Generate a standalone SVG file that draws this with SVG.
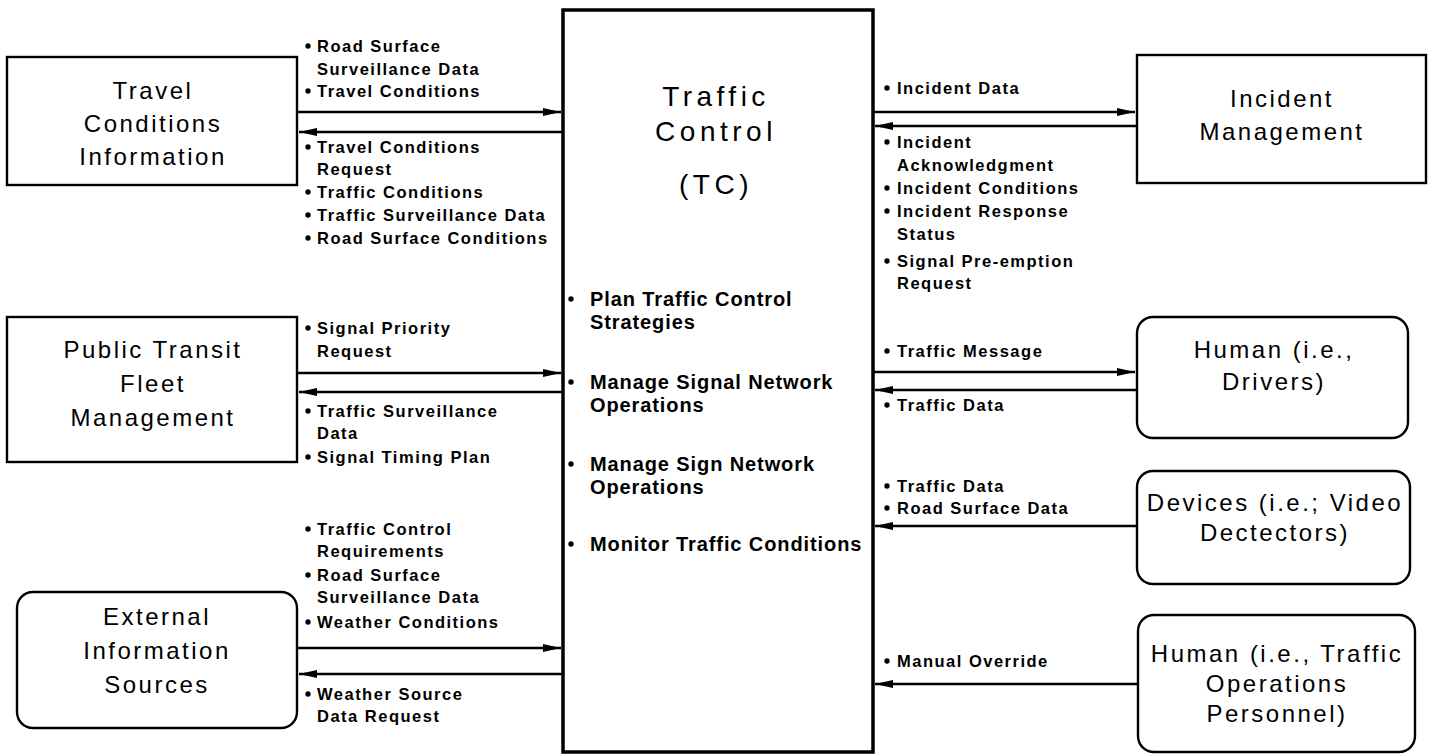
<svg xmlns="http://www.w3.org/2000/svg" width="1433" height="756" viewBox="0 0 1433 756">
<style>
.box{fill:#fff;stroke:#000;stroke-width:2.4}
.nt{font-family:"Liberation Sans",Arial,sans-serif;font-size:24px;letter-spacing:2.5px;text-anchor:middle;fill:#000}
.tt{font-family:"Liberation Sans",Arial,sans-serif;font-size:28px;letter-spacing:4.5px;text-anchor:middle;fill:#000}
.fn{font-family:"Liberation Sans",Arial,sans-serif;font-size:20px;font-weight:bold;letter-spacing:0.9px;fill:#000}
.lb{font-family:"Liberation Sans",Arial,sans-serif;font-size:16.5px;font-weight:bold;letter-spacing:1.5px;fill:#000}
.ar{stroke:#000;stroke-width:2.6;fill:none;marker-end:url(#ah)}
</style>
<defs>
<marker id="ah" viewBox="0 0 18 9" refX="18" refY="4.5" markerWidth="18" markerHeight="9" orient="auto" markerUnits="userSpaceOnUse"><path d="M0,0.5 L18,4.5 L0,8.5 Z" fill="#000"/></marker>
<circle id="b" r="2.7" fill="#000"/>
</defs>
<rect width="1433" height="756" fill="#fff"/>

<g id="tc">
<rect x="563" y="10" width="310" height="742" fill="#fff" stroke="#000" stroke-width="3.5"/>
<text class="tt" x="716" y="106">Traffic</text>
<text class="tt" x="716" y="141">Control</text>
<text class="tt" x="716" y="194">(TC)</text>
<use href="#b" x="571" y="299"/><text class="fn" x="590" y="306">Plan Traffic Control</text>
<text class="fn" x="590" y="329">Strategies</text>
<use href="#b" x="571" y="382"/><text class="fn" x="590" y="389">Manage Signal Network</text>
<text class="fn" x="590" y="412">Operations</text>
<use href="#b" x="571" y="464"/><text class="fn" x="590" y="471">Manage Sign Network</text>
<text class="fn" x="590" y="494">Operations</text>
<use href="#b" x="571" y="544"/><text class="fn" x="590" y="551">Monitor Traffic Conditions</text>
</g>

<g id="travel">
<rect class="box" x="7" y="57" width="290" height="128"/>
<text class="nt" x="153" y="99">Travel</text>
<text class="nt" x="153" y="132">Conditions</text>
<text class="nt" x="153" y="165">Information</text>
</g>

<g id="transit">
<rect class="box" x="7" y="317" width="290" height="145"/>
<text class="nt" x="153" y="358">Public Transit</text>
<text class="nt" x="153" y="392">Fleet</text>
<text class="nt" x="153" y="426">Management</text>
</g>

<g id="external">
<rect class="box" x="17" y="592" width="280" height="136" rx="16"/>
<text class="nt" x="157" y="625">External</text>
<text class="nt" x="157" y="659">Information</text>
<text class="nt" x="157" y="693">Sources</text>
</g>

<g id="incident">
<rect class="box" x="1137" y="55" width="289" height="128"/>
<text class="nt" x="1282" y="107">Incident</text>
<text class="nt" x="1282" y="140">Management</text>
</g>

<g id="drivers">
<rect class="box" x="1137" y="317" width="271" height="121" rx="16"/>
<text class="nt" x="1274" y="358">Human (i.e.,</text>
<text class="nt" x="1274" y="390">Drivers)</text>
</g>

<g id="devices">
<rect class="box" x="1137" y="471" width="273" height="113" rx="16"/>
<text class="nt" x="1275" y="511">Devices (i.e.; Video</text>
<text class="nt" x="1275" y="541">Dectectors)</text>
</g>

<g id="operators">
<rect class="box" x="1138" y="615" width="277" height="137" rx="16"/>
<text class="nt" x="1277" y="662">Human (i.e., Traffic</text>
<text class="nt" x="1277" y="692">Operations</text>
<text class="nt" x="1277" y="722">Personnel)</text>
</g>

<g id="connectors">
<line class="ar" x1="297" y1="112" x2="561" y2="112"/>
<line class="ar" x1="563" y1="132" x2="299" y2="132"/>
<line class="ar" x1="297" y1="373" x2="561" y2="373"/>
<line class="ar" x1="563" y1="392" x2="299" y2="392"/>
<line class="ar" x1="297" y1="648" x2="561" y2="648"/>
<line class="ar" x1="563" y1="674" x2="299" y2="674"/>
<line class="ar" x1="873" y1="112" x2="1135" y2="112"/>
<line class="ar" x1="1137" y1="126" x2="875" y2="126"/>
<line class="ar" x1="873" y1="372" x2="1135" y2="372"/>
<line class="ar" x1="1137" y1="390" x2="875" y2="390"/>
<line class="ar" x1="1137" y1="526" x2="875" y2="526"/>
<line class="ar" x1="1138" y1="684" x2="875" y2="684"/>
</g>

<g id="labels">
<use href="#b" x="308" y="46"/><text class="lb" x="317" y="52">Road Surface</text>
<text class="lb" x="317" y="75">Surveillance Data</text>
<use href="#b" x="308" y="91"/><text class="lb" x="317" y="97">Travel Conditions</text>
<use href="#b" x="308" y="147"/><text class="lb" x="317" y="153">Travel Conditions</text>
<text class="lb" x="317" y="175">Request</text>
<use href="#b" x="308" y="192"/><text class="lb" x="317" y="198">Traffic Conditions</text>
<use href="#b" x="308" y="215"/><text class="lb" x="317" y="221">Traffic Surveillance Data</text>
<use href="#b" x="308" y="238"/><text class="lb" x="317" y="244">Road Surface Conditions</text>

<use href="#b" x="308" y="328"/><text class="lb" x="317" y="334">Signal Priority</text>
<text class="lb" x="317" y="357">Request</text>
<use href="#b" x="308" y="411"/><text class="lb" x="317" y="417">Traffic Surveillance</text>
<text class="lb" x="317" y="439">Data</text>
<use href="#b" x="308" y="457"/><text class="lb" x="317" y="463">Signal Timing Plan</text>

<use href="#b" x="308" y="529"/><text class="lb" x="317" y="535">Traffic Control</text>
<text class="lb" x="317" y="557">Requirements</text>
<use href="#b" x="308" y="575"/><text class="lb" x="317" y="581">Road Surface</text>
<text class="lb" x="317" y="603">Surveillance Data</text>
<use href="#b" x="308" y="622"/><text class="lb" x="317" y="628">Weather Conditions</text>
<use href="#b" x="308" y="694"/><text class="lb" x="317" y="700">Weather Source</text>
<text class="lb" x="317" y="722">Data Request</text>

<use href="#b" x="887" y="88"/><text class="lb" x="897" y="94">Incident Data</text>
<use href="#b" x="887" y="142"/><text class="lb" x="897" y="148">Incident</text>
<text class="lb" x="897" y="171">Acknowledgment</text>
<use href="#b" x="887" y="188"/><text class="lb" x="897" y="194">Incident Conditions</text>
<use href="#b" x="887" y="211"/><text class="lb" x="897" y="217">Incident Response</text>
<text class="lb" x="897" y="240">Status</text>
<use href="#b" x="887" y="261"/><text class="lb" x="897" y="267">Signal Pre-emption</text>
<text class="lb" x="897" y="289">Request</text>

<use href="#b" x="887" y="351"/><text class="lb" x="897" y="357">Traffic Message</text>
<use href="#b" x="887" y="405"/><text class="lb" x="897" y="411">Traffic Data</text>
<use href="#b" x="887" y="486"/><text class="lb" x="897" y="492">Traffic Data</text>
<use href="#b" x="887" y="508"/><text class="lb" x="897" y="514">Road Surface Data</text>
<use href="#b" x="887" y="661"/><text class="lb" x="897" y="667">Manual Override</text>
</g>
</svg>
